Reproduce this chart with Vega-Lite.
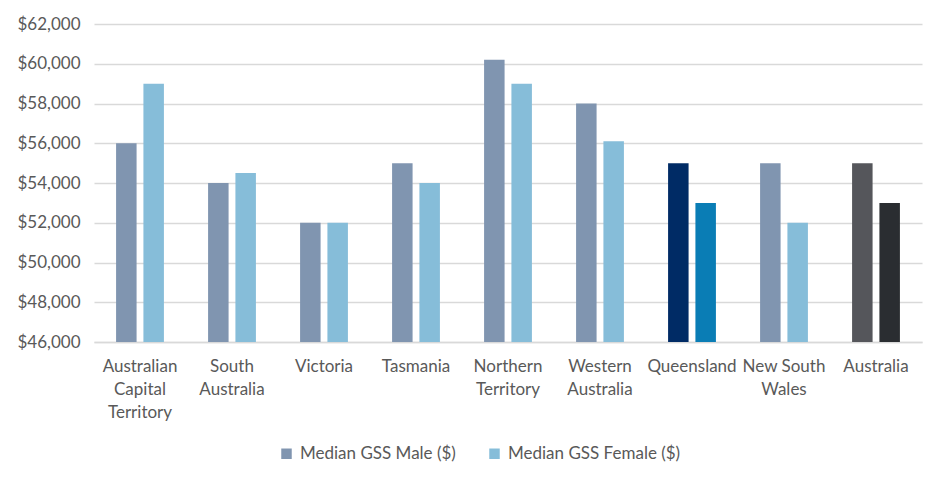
{
  "$schema": "https://vega.github.io/schema/vega-lite/v6.json",
  "autosize": {"type": "none"},
  "width": 828,
  "height": 318,
  "padding": {"left": 94, "top": 24, "right": 27, "bottom": 143},
  "background": "white",
  "data": {
    "values": [
      {"state": "Australian Capital Territory", "series": "Median GSS Male ($)", "value": 56000},
      {"state": "Australian Capital Territory", "series": "Median GSS Female ($)", "value": 59000},
      {"state": "South Australia", "series": "Median GSS Male ($)", "value": 54000},
      {"state": "South Australia", "series": "Median GSS Female ($)", "value": 54500},
      {"state": "Victoria", "series": "Median GSS Male ($)", "value": 52000},
      {"state": "Victoria", "series": "Median GSS Female ($)", "value": 52000},
      {"state": "Tasmania", "series": "Median GSS Male ($)", "value": 55000},
      {"state": "Tasmania", "series": "Median GSS Female ($)", "value": 54000},
      {"state": "Northern Territory", "series": "Median GSS Male ($)", "value": 60200},
      {"state": "Northern Territory", "series": "Median GSS Female ($)", "value": 59000},
      {"state": "Western Australia", "series": "Median GSS Male ($)", "value": 58000},
      {"state": "Western Australia", "series": "Median GSS Female ($)", "value": 56100},
      {"state": "Queensland", "series": "Median GSS Male ($)", "value": 55000},
      {"state": "Queensland", "series": "Median GSS Female ($)", "value": 53000},
      {"state": "New South Wales", "series": "Median GSS Male ($)", "value": 55000},
      {"state": "New South Wales", "series": "Median GSS Female ($)", "value": 52000},
      {"state": "Australia", "series": "Median GSS Male ($)", "value": 55000},
      {"state": "Australia", "series": "Median GSS Female ($)", "value": 53000}
    ]
  },
  "mark": {"type": "bar", "clip": true},
  "encoding": {
    "x": {
      "field": "state",
      "type": "nominal",
      "sort": null,
      "scale": {"paddingInner": 0.48, "paddingOuter": 0.24},
      "axis": {
        "title": null,
        "labelAngle": 0,
        "ticks": false,
        "domain": true,
        "domainColor": "#D9D9D9",
        "domainWidth": 1.5,
        "labelPadding": 16,
        "labelLineHeight": 23,
        "labelLimit": 0,
        "labelExpr": "datum.value === 'New South Wales' ? ['New South', 'Wales'] : datum.value === 'Queensland' ? 'Queensland' : split(datum.value, ' ')"
      }
    },
    "xOffset": {
      "field": "series",
      "type": "nominal",
      "sort": ["Median GSS Male ($)", "Median GSS Female ($)"],
      "scale": {"paddingInner": 0.25, "paddingOuter": 0}
    },
    "y": {
      "field": "value",
      "type": "quantitative",
      "scale": {"domain": [46000, 62000], "nice": false, "zero": false},
      "axis": {
        "title": null,
        "format": "$,.0f",
        "values": [46000, 48000, 50000, 52000, 54000, 56000, 58000, 60000, 62000],
        "domain": false,
        "ticks": false,
        "labelPadding": 14,
        "gridColor": "#D9D9D9",
        "gridWidth": 1.5
      }
    },
    "color": {
      "condition": [
        {"test": "datum.state === 'Queensland' && datum.series === 'Median GSS Male ($)'", "value": "#002B65"},
        {"test": "datum.state === 'Queensland' && datum.series === 'Median GSS Female ($)'", "value": "#0A7DB5"},
        {"test": "datum.state === 'Australia' && datum.series === 'Median GSS Male ($)'", "value": "#55565B"},
        {"test": "datum.state === 'Australia' && datum.series === 'Median GSS Female ($)'", "value": "#2A2D31"}
      ],
      "field": "series",
      "type": "nominal",
      "sort": ["Median GSS Male ($)", "Median GSS Female ($)"],
      "scale": {"domain": ["Median GSS Male ($)", "Median GSS Female ($)"], "range": ["#8095B0", "#86BDD9"]},
      "legend": {
        "title": null,
        "orient": "none",
        "legendX": 184,
        "legendY": 421,
        "direction": "horizontal",
        "symbolType": "square",
        "symbolSize": 110,
        "columnPadding": 30,
        "labelLimit": 0,
        "padding": 0,
        "labelOffset": 5
      }
    }
  },
  "config": {
    "font": "Lato",
    "view": {"stroke": null},
    "axis": {"labelFont": "Lato", "labelFontSize": 17, "labelColor": "#595959"},
    "legend": {"labelFont": "Lato", "labelFontSize": 17, "labelColor": "#595959", "symbolStrokeWidth": 0}
  }
}
